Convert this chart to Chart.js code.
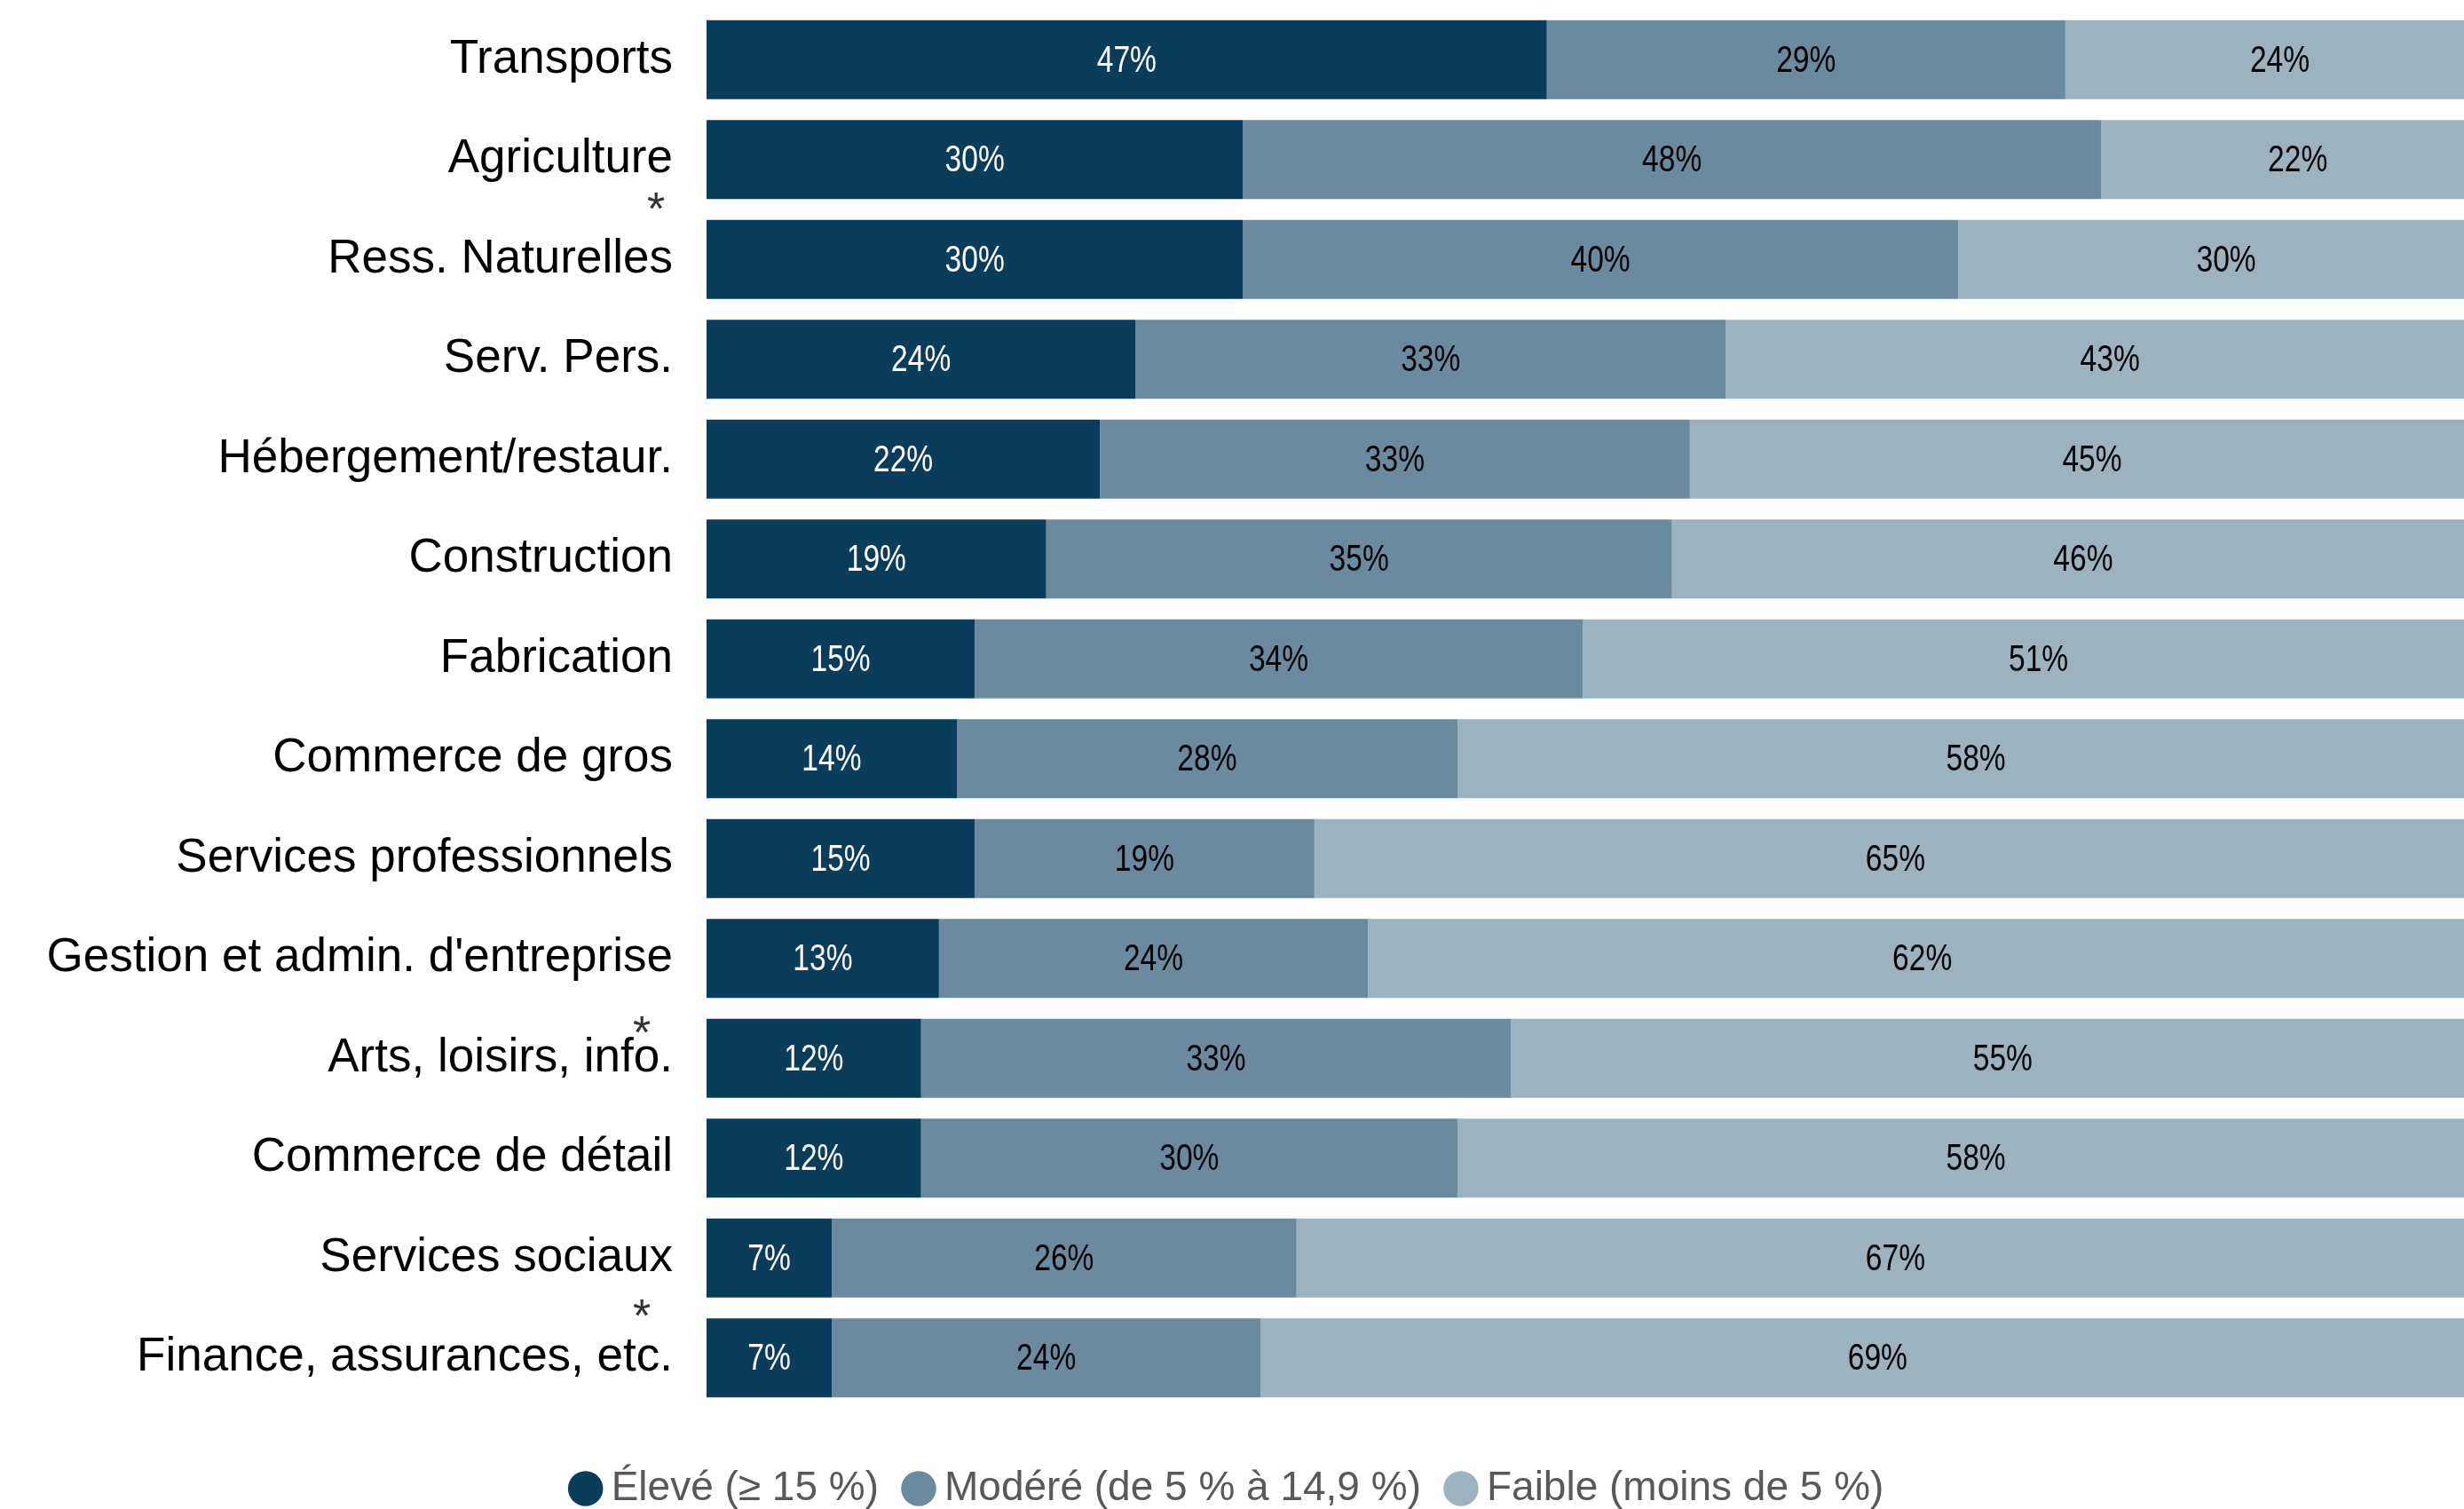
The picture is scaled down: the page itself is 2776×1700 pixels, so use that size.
<!DOCTYPE html>
<html>
<head>
<meta charset="utf-8">
<script src="https://cdn.jsdelivr.net/npm/chart.js@4.4.1/dist/chart.umd.min.js"></script>
<style>
    html, body { margin: 0; padding: 0; background: #fff; }
    #wrap { width: 2776px; height: 1700px; }
</style>
</head>
<body>
<div id="wrap"><canvas id="riskChart"></canvas></div>
<script>
// Sectors, top to bottom
const sectors = ['Transports', 'Agriculture', 'Ress. Naturelles', 'Serv. Pers.', 'Hébergement/restaur.',
    'Construction', 'Fabrication', 'Commerce de gros', 'Services professionnels',
    "Gestion et admin. d'entreprise", 'Arts, loisirs, info.', 'Commerce de détail',
    'Services sociaux', 'Finance, assurances, etc.'];

// Share of firms by risk level (%)
const eleve  = [47, 30, 30, 24, 22, 19, 15, 14, 15, 13, 12, 12, 7, 7];
const modere = [29, 48, 40, 33, 33, 35, 34, 28, 19, 24, 33, 30, 26, 24];
const faible = [24, 22, 30, 43, 45, 46, 51, 58, 65, 62, 55, 58, 67, 69];

const seriesNames = ['Élevé (≥ 15 %)', 'Modéré (de 5 % à 14,9 %)', 'Faible (moins de 5 %)'];

// Sectors flagged with an asterisk
const starred = ['Ress. Naturelles', 'Arts, loisirs, info.', 'Finance, assurances, etc.'];

const colors = ['#0a3d5c', '#6a8a9d', '#9db2bf'];
const labelColors = ['#ffffff', '#000000', '#000000'];

// Draw the % value in the middle of each segment (narrowed text)
const segmentLabels = {
    id: 'segmentLabels',
    afterDatasetsDraw(chart) {
        const ctx = chart.ctx;
        const area = chart.chartArea;
        chart.data.datasets.forEach((ds, i) => {
            chart.getDatasetMeta(i).data.forEach((bar, j) => {
                const x = (bar.x + bar.base) / 2;
                if (x > area.right) return;
                ctx.save();
                ctx.translate(x, bar.y + 2);
                ctx.scale(0.8, 1);
                ctx.font = '42px "Liberation Sans", sans-serif';
                ctx.textAlign = 'center';
                ctx.textBaseline = 'middle';
                ctx.fillStyle = labelColors[i];
                ctx.fillText(ds.data[j] + '%', 0, 0);
                ctx.restore();
            });
        });
    }
};

// Small asterisks above some category names
const starMarks = {
    id: 'starMarks',
    afterDraw(chart) {
        const y = chart.scales.y;
        const ctx = chart.ctx;
        const shift = {
            'Ress. Naturelles': [-19, -65],
            'Arts, loisirs, info.': [-35, -37],
            'Finance, assurances, etc.': [-35, -55]
        };
        ctx.save();
        ctx.font = '52px "Liberation Sans", sans-serif';
        ctx.fillStyle = '#333333';
        ctx.textAlign = 'center';
        ctx.textBaseline = 'middle';
        starred.forEach(name => {
            const i = sectors.indexOf(name);
            const px = y.right - y.options.ticks.padding + shift[name][0];
            const py = y.getPixelForValue(i) + shift[name][1] + 11;
            ctx.fillText('*', px, py);
        });
        ctx.restore();
    }
};

const ctx = document.getElementById('riskChart').getContext('2d');
const riskChart = new Chart(ctx, {
    type: 'bar',
    data: {
        labels: sectors,
        datasets: [eleve, modere, faible].map((vals, i) => ({
            label: seriesNames[i],
            data: vals,
            backgroundColor: colors[i],
            borderWidth: 0,
            categoryPercentage: 1,
            barPercentage: 0.79
        }))
    },
    options: {
        indexAxis: 'y',
        responsive: true,
        maintainAspectRatio: false,
        animation: false,
        devicePixelRatio: 1,
        layout: { padding: { top: 11, right: 0, bottom: -10, left: 0 } },
        scales: {
            x: {
                stacked: true,
                min: 0,
                max: 98.3,
                grid: { display: false, drawTicks: false },
                border: { display: false },
                ticks: { display: false },
                afterFit: scale => { scale.height = 29; }
            },
            y: {
                stacked: true,
                grid: { display: false, drawTicks: false },
                border: { display: false },
                ticks: {
                    color: '#000000',
                    padding: 38,
                    font: { family: '"Liberation Sans", sans-serif', size: 53 }
                },
                afterFit: scale => {
                    scale.width = 796;
                    scale.paddingTop = 0;
                    scale.paddingBottom = 0;
                }
            }
        },
        plugins: {
            legend: {
                position: 'bottom',
                labels: {
                    usePointStyle: true,
                    pointStyle: 'circle',
                    boxWidth: 12,
                    boxHeight: 28,
                    padding: 39,
                    color: '#595959',
                    font: { family: '"Liberation Sans", sans-serif', size: 46 }
                }
            },
            tooltip: { enabled: false }
        }
    },
    plugins: [segmentLabels, starMarks]
});
</script>
</body>
</html>
